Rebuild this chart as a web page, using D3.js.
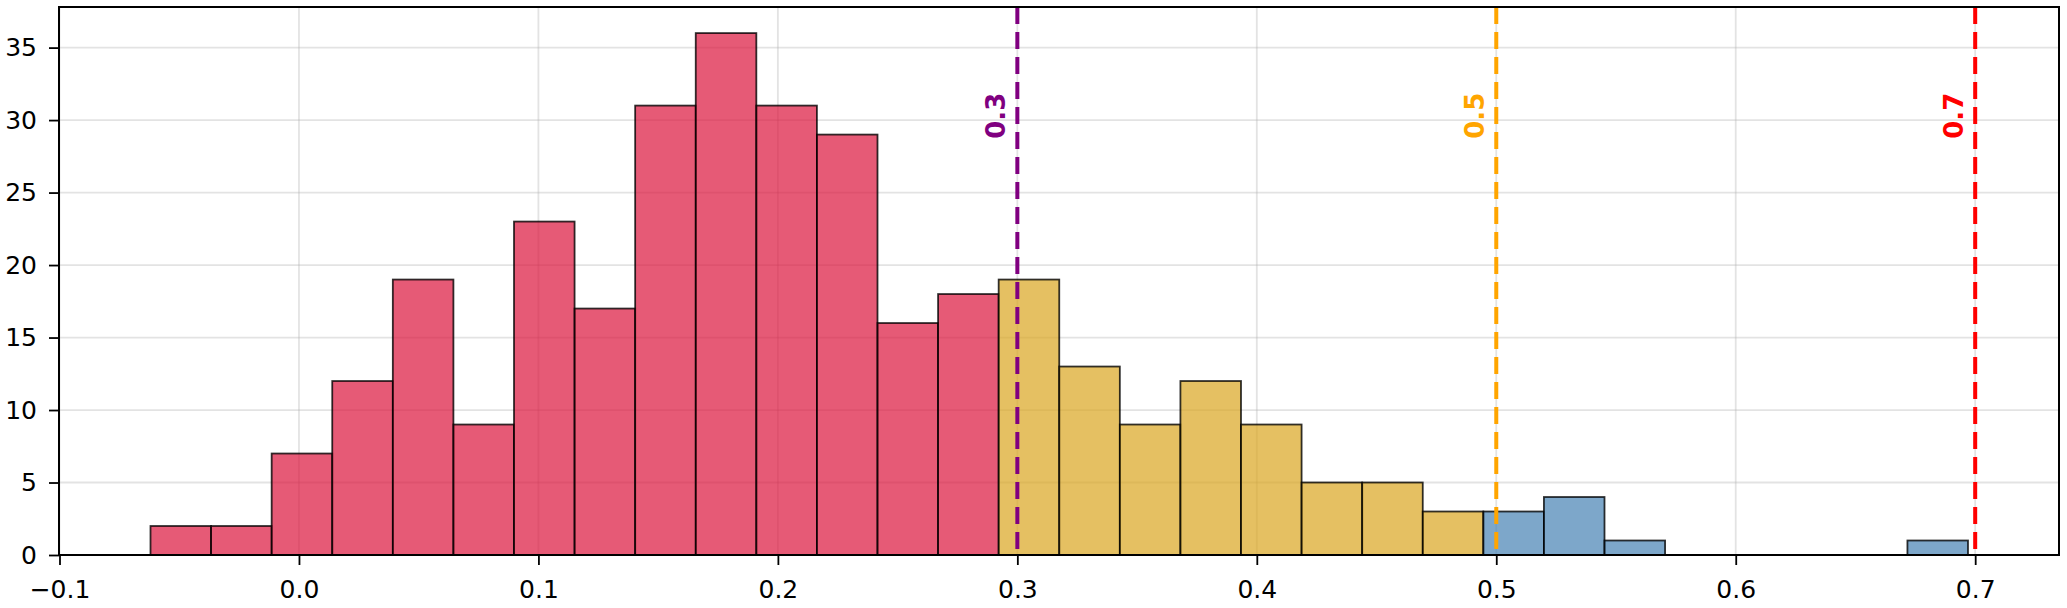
<!DOCTYPE html>
<html>
<head>
<meta charset="utf-8">
<script src="https://cdn.jsdelivr.net/npm/d3@7"></script>
<style>
  html, body { margin: 0; padding: 0; background: #fff; }
  svg text { font-family: "DejaVu Sans", sans-serif; }
</style>
</head>
<body>
<div id="chart"></div>
<script>
// Histogram bins (edges) and counts
const binEdges = [
  -0.0620, -0.0367, -0.0114, 0.0139, 0.0392, 0.0645, 0.0898, 0.1151,
  0.1404, 0.1657, 0.1910, 0.2163, 0.2416, 0.2669, 0.2922, 0.3175,
  0.3428, 0.3681, 0.3934, 0.4187, 0.4440, 0.4693, 0.4946, 0.5199,
  0.5452, 0.5705, 0.5958, 0.6211, 0.6464, 0.6717, 0.6970
];
const counts = [
  2, 2, 7, 12, 19, 9, 23, 17, 31, 36, 31, 29, 16, 18, 19,
  13, 9, 12, 9, 5, 5, 3, 3, 4, 1, 0, 0, 0, 0, 1
];

// Threshold lines
const thresholds = [0.3, 0.5, 0.7];
const thresholdLabels = ['0.3', '0.5', '0.7'];

// Ticks
const xTicks = [-0.1, 0.0, 0.1, 0.2, 0.3, 0.4, 0.5, 0.6, 0.7];
const xTickLabels = ['\u22120.1', '0.0', '0.1', '0.2', '0.3', '0.4', '0.5', '0.6', '0.7'];
const yTicks = [0, 5, 10, 15, 20, 25, 30, 35];

const width = 2067;
const height = 608;

// SVG values
const plotLeft = 59;
const plotRight = 2059;
const plotTop = 7;
const plotBottom = 555;
const fontSize = 25;
const labelFontSize = 26;

const barColors = ['#DC143C', '#DAA520', '#4682B4'];
const lineColors = ['purple', 'orange', 'red'];

const scaleX = d3.scaleLinear()
  .domain([-0.1, 0.735])
  .range([59.5, 2059]);

const scaleY = d3.scaleLinear()
  .domain([0, 37.8])
  .range([plotBottom, plotTop]);

// colour of a bin depends on which threshold band its centre sits in
const bandOf = d3.scaleThreshold()
  .domain([thresholds[0], thresholds[1]])
  .range(barColors);

const bins = counts.map(function (c, i) {
  return { x0: binEdges[i], x1: binEdges[i + 1], count: c };
});

const svg = d3.select('#chart').append('svg')
  .attr('width', width)
  .attr('height', height);

// grid
svg.append('g')
  .attr('class', 'grid-x')
  .selectAll('line')
  .data(xTicks)
  .enter()
  .append('line')
    .attr('x1', function (d) { return scaleX(d); })
    .attr('x2', function (d) { return scaleX(d); })
    .attr('y1', plotTop)
    .attr('y2', plotBottom)
    .attr('stroke', '#b0b0b0')
    .attr('stroke-opacity', 0.35)
    .attr('stroke-width', 1.8);

svg.append('g')
  .attr('class', 'grid-y')
  .selectAll('line')
  .data(yTicks)
  .enter()
  .append('line')
    .attr('x1', plotLeft)
    .attr('x2', plotRight)
    .attr('y1', function (d) { return scaleY(d); })
    .attr('y2', function (d) { return scaleY(d); })
    .attr('stroke', '#b0b0b0')
    .attr('stroke-opacity', 0.35)
    .attr('stroke-width', 1.8);

// bars
svg.append('g')
  .attr('class', 'bars')
  .selectAll('rect')
  .data(bins.filter(function (d) { return d.count > 0; }))
  .enter()
  .append('rect')
    .attr('x', function (d) { return scaleX(d.x0); })
    .attr('width', function (d) { return scaleX(d.x1) - scaleX(d.x0); })
    .attr('y', function (d) { return scaleY(d.count); })
    .attr('height', function (d) { return scaleY(0) - scaleY(d.count); })
    .attr('fill', function (d) { return bandOf((d.x0 + d.x1) / 2); })
    .attr('fill-opacity', 0.7)
    .attr('stroke', '#000')
    .attr('stroke-opacity', 0.8)
    .attr('stroke-width', 1.8);

// threshold lines
svg.append('g')
  .attr('class', 'thresholds')
  .selectAll('line')
  .data(thresholds)
  .enter()
  .append('line')
    .attr('x1', function (d) { return scaleX(d); })
    .attr('x2', function (d) { return scaleX(d); })
    .attr('y1', plotTop)
    .attr('y2', plotBottom)
    .attr('stroke', function (d, i) { return lineColors[i]; })
    .attr('stroke-width', 4)
    .attr('stroke-dasharray', '17,8');

svg.append('g')
  .attr('class', 'threshold-labels')
  .selectAll('text')
  .data(thresholds)
  .enter()
  .append('text')
    .attr('transform', function (d) {
      return `translate(${scaleX(d) - 12}, ${scaleY(30.3)}) rotate(-90)`;
    })
    .attr('text-anchor', 'middle')
    .attr('font-size', labelFontSize)
    .attr('font-weight', 'bold')
    .attr('fill', function (d, i) { return lineColors[i]; })
    .text(function (d, i) { return thresholdLabels[i]; });

// axes
const xAxis = d3.axisBottom(scaleX)
  .tickValues(xTicks)
  .tickFormat(function (d, i) { return xTickLabels[i]; })
  .tickSize(10)
  .tickPadding(15);

const yAxis = d3.axisLeft(scaleY)
  .tickValues(yTicks)
  .tickSize(10)
  .tickPadding(12);

const gx = svg.append('g')
  .attr('transform', `translate(0, ${plotBottom})`)
  .call(xAxis);

const gy = svg.append('g')
  .attr('transform', `translate(${plotLeft}, 0)`)
  .call(yAxis);

[gx, gy].forEach(function (g) {
  g.select('.domain').remove();
  g.selectAll('.tick line').attr('stroke', '#000').attr('stroke-width', 1.8);
  g.selectAll('.tick text')
    .attr('fill', '#000')
    .attr('font-size', fontSize)
    .attr('font-family', '"DejaVu Sans", sans-serif');
});

// frame
svg.append('rect')
  .attr('x', plotLeft)
  .attr('y', plotTop)
  .attr('width', plotRight - plotLeft)
  .attr('height', plotBottom - plotTop)
  .attr('fill', 'none')
  .attr('stroke', '#000')
  .attr('stroke-width', 2);
</script>
</body>
</html>
